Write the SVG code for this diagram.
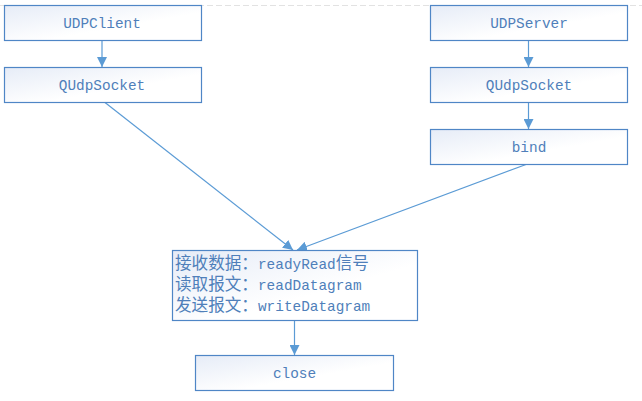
<svg xmlns="http://www.w3.org/2000/svg" width="642" height="401" viewBox="0 0 642 401">
<defs>
<linearGradient id="g" x1="0" y1="0" x2="1" y2="1">
<stop offset="0" stop-color="#e6ecf7"/>
<stop offset="0.6" stop-color="#ffffff"/>
</linearGradient>
<marker id="a" viewBox="0 0 10 10" refX="10" refY="5" markerWidth="10" markerHeight="10" markerUnits="userSpaceOnUse" orient="auto">
<path d="M0,0 L10,5 L0,10 Z" fill="#5b9bd5"/>
</marker>
</defs>
<style>
.box{fill:url(#g);stroke:#4f86c6;stroke-width:1.2}
.t{font-family:"Liberation Mono","Noto Sans CJK SC",monospace;font-size:14.4px;fill:#4f7fba}
.k{font-size:16.6px}
.c{stroke:#5b9bd5;stroke-width:1.2;fill:none;marker-end:url(#a)}
</style>
<rect width="642" height="401" fill="#ffffff"/>
<line x1="0" y1="5.5" x2="642" y2="5.5" stroke="#e2e2e2" stroke-width="1" stroke-dasharray="6 3"/>
<g id="connectors">
<line class="c" x1="102" y1="40.5" x2="102" y2="67"/>
<line class="c" x1="528.5" y1="40.5" x2="528.5" y2="67"/>
<line class="c" x1="528.5" y1="102.5" x2="528.5" y2="129"/>
<line class="c" x1="105" y1="102.5" x2="293" y2="250"/>
<line class="c" x1="526" y1="164.5" x2="297" y2="250"/>
<line class="c" x1="294.5" y1="320.5" x2="294.5" y2="355"/>
</g>
<g id="udpclient">
<rect class="box" x="4.5" y="5.5" width="197" height="35"/>
<text class="t" x="102" y="27.5" text-anchor="middle">UDPClient</text>
</g>
<g id="qudpsocket1">
<rect class="box" x="4.5" y="67.5" width="197" height="35"/>
<text class="t" x="102" y="89.5" text-anchor="middle">QUdpSocket</text>
</g>
<g id="udpserver">
<rect class="box" x="430.5" y="5.5" width="197" height="35"/>
<text class="t" x="529" y="27.5" text-anchor="middle">UDPServer</text>
</g>
<g id="qudpsocket2">
<rect class="box" x="430.5" y="67.5" width="197" height="35"/>
<text class="t" x="529" y="89.5" text-anchor="middle">QUdpSocket</text>
</g>
<g id="bind">
<rect class="box" x="430.5" y="129.5" width="197" height="35"/>
<text class="t" x="529" y="151.5" text-anchor="middle">bind</text>
</g>
<g id="process">
<rect class="box" x="172.5" y="250.5" width="245" height="70"/>
<text class="t" x="175" y="268.5"><tspan class="k">接收数据：</tspan>readyRead<tspan class="k">信号</tspan></text>
<text class="t" x="175" y="290"><tspan class="k">读取报文：</tspan>readDatagram</text>
<text class="t" x="175" y="311"><tspan class="k">发送报文：</tspan>writeDatagram</text>
</g>
<g id="close">
<rect class="box" x="195.5" y="355.5" width="198" height="35"/>
<text class="t" x="294.5" y="377.5" text-anchor="middle">close</text>
</g>
</svg>
